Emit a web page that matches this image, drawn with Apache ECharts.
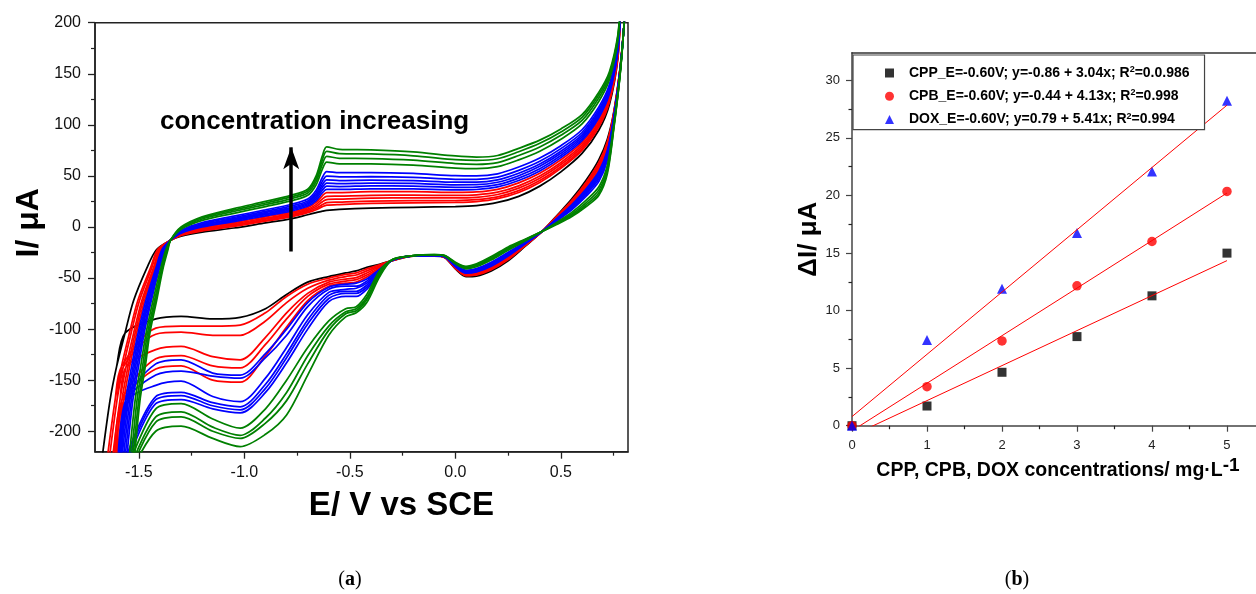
<!DOCTYPE html>
<html><head><meta charset="utf-8">
<script src="https://cdn.jsdelivr.net/npm/echarts@6/dist/echarts.min.js"></script>
<style>html,body{margin:0;padding:0;background:#fff}#c{width:1256px;height:594px}</style>
</head><body><div id="c"></div>
<script>
// ================= panel (a): cyclic voltammograms =================
// left steep part of the forward (anodic) sweep: current levels, and the potential of each curve at them
const fwdSteepI = [-235, -170, -137, -104, -72, -40, -22];
const steepE_black = [[-1.68, -1.637, -1.606, -1.566, -1.525, -1.462, -1.416]];
const steepE_red = [
  [-1.655, -1.613, -1.583, -1.545, -1.505, -1.445, -1.411],
  [-1.645, -1.604, -1.574, -1.537, -1.497, -1.439, -1.408],
  [-1.63, -1.59, -1.561, -1.525, -1.486, -1.431, -1.403],
  [-1.62, -1.581, -1.552, -1.518, -1.48, -1.427, -1.399],
  [-1.61, -1.572, -1.544, -1.511, -1.473, -1.423, -1.394]];
const steepE_blue = [
  [-1.6, -1.563, -1.535, -1.504, -1.467, -1.419, -1.39],
  [-1.592, -1.556, -1.528, -1.498, -1.461, -1.415, -1.387],
  [-1.585, -1.55, -1.522, -1.492, -1.457, -1.412, -1.385],
  [-1.578, -1.543, -1.516, -1.487, -1.452, -1.409, -1.382],
  [-1.57, -1.536, -1.509, -1.481, -1.446, -1.405, -1.379],
  [-1.562, -1.529, -1.502, -1.475, -1.441, -1.402, -1.376]];
const steepE_green = [
  [-1.55, -1.518, -1.492, -1.466, -1.433, -1.396, -1.372],
  [-1.54, -1.509, -1.483, -1.459, -1.426, -1.391, -1.368],
  [-1.532, -1.501, -1.476, -1.453, -1.421, -1.388, -1.365],
  [-1.525, -1.495, -1.47, -1.448, -1.416, -1.385, -1.362]];

// forward sweep (upper branch)
const fwdE = [-1.35, -1.30, -1.20, -1.05, -0.90, -0.78, -0.70, -0.66, -0.63, -0.61, -0.55, -0.40, -0.20, 0.00, 0.10, 0.20, 0.30, 0.40, 0.50, 0.60, 0.68, 0.73, 0.77];
const fwdI_black = [[-13, -9, -5, -1, 4, 8, 12, 14, 15.5, 16.3, 17.3, 18.5, 19.3, 20, 21, 24, 30, 40, 54, 72, 95, 120, 165]];
const fwdI_red = [
  [-13, -8.3, -3.8, 0.5, 5.7, 9.8, 14, 16.9, 19.9, 21.3, 22, 23, 23.6, 24, 24.8, 27.7, 33.8, 43.6, 57.4, 75, 98, 122.6, 166.8],
  [-13, -7.9, -3.2, 1.3, 6.5, 10.8, 15, 18.3, 22, 23.8, 24.3, 25.3, 25.8, 25.9, 26.7, 29.5, 35.6, 45.4, 59, 76.6, 99.4, 123.8, 167.8],
  [-13, -7.5, -2.5, 2.2, 7.6, 11.9, 16.3, 20.1, 24.8, 26.9, 27.3, 28.2, 28.5, 28.4, 29.1, 31.8, 38, 47.7, 61.1, 78.5, 101.3, 125.4, 168.9],
  [-13, -7, -1.7, 3.2, 8.6, 13.1, 17.5, 21.9, 27.5, 30, 30.2, 31, 31.2, 30.9, 31.5, 34.1, 40.3, 49.9, 63.2, 80.4, 103.1, 127, 170],
  [-13, -6.5, -0.8, 4.3, 9.9, 14.4, 19, 24.1, 30.8, 33.7, 33.7, 34.5, 34.5, 33.9, 34.3, 36.9, 43.2, 52.6, 65.8, 82.6, 105.4, 129, 171.4]];
const fwdI_blue = [
  [-13, -6, 0, 5.3, 10.9, 15.6, 20.3, 25.9, 33.5, 36.8, 36.7, 37.3, 37.2, 36.3, 36.7, 39.2, 45.5, 54.9, 67.9, 84.5, 107.2, 130.6, 172.6],
  [-13, -5.6, 0.7, 6.2, 12, 16.7, 21.5, 27.7, 36.2, 39.9, 39.6, 40.2, 39.9, 38.8, 39.1, 41.5, 47.9, 57.1, 70, 86.4, 109.1, 132.2, 173.7],
  [-13, -5.1, 1.5, 7.2, 13, 17.9, 22.8, 29.5, 38.9, 43, 42.5, 43, 42.6, 41.3, 41.4, 43.8, 50.2, 59.4, 72.1, 88.3, 110.9, 133.8, 174.9],
  [-13, -4.7, 2.2, 8.1, 14.1, 19, 24, 31.3, 41.7, 46.2, 45.5, 45.9, 45.3, 43.8, 43.8, 46.1, 52.6, 61.6, 74.2, 90.2, 112.8, 135.4, 176],
  [-13, -4.1, 3.1, 9.3, 15.3, 20.4, 25.5, 33.4, 44.9, 49.9, 49, 49.3, 48.6, 46.7, 46.7, 48.8, 55.4, 64.3, 76.7, 92.5, 115, 137.3, 177.4],
  [-13, -3.5, 4.2, 10.6, 16.8, 22, 27.3, 36, 48.7, 54.2, 53.1, 53.3, 52.4, 50.2, 50, 52.1, 58.7, 67.5, 79.6, 95.2, 117.6, 139.5, 179]];
const fwdI_green = [
  [-13, -2.2, 6.4, 13.4, 20, 25.5, 31, 41.4, 56.9, 63.6, 61.9, 61.8, 60.5, 57.6, 57.1, 59, 65.7, 74.2, 85.9, 100.9, 123.1, 144.3, 182.5],
  [-13, -1.4, 7.8, 15.2, 21.9, 27.6, 33.3, 44.6, 61.8, 69.2, 67.2, 67, 65.4, 62.1, 61.4, 63.1, 70, 78.3, 89.7, 104.3, 126.5, 147.2, 184.6],
  [-13, -0.6, 9, 16.7, 23.5, 29.4, 35.3, 47.5, 66.2, 74.1, 71.9, 71.5, 69.7, 66, 65.2, 66.8, 73.7, 81.9, 93, 107.3, 129.4, 149.8, 186.4],
  [-13, 0, 10, 18, 25, 31, 37, 50, 70, 78.5, 76, 75.5, 73.5, 69.5, 68.5, 70, 77, 85, 96, 110, 132, 152, 188]];

// switching region above the top of the axis
const turnE = [0.795, 0.81];
const turnI = [240, 240];

// reverse sweep (lower branch)
const revE = [0.80, 0.78, 0.75, 0.72, 0.68, 0.62, 0.55, 0.48, 0.41, 0.33, 0.25, 0.17, 0.10, 0.05, 0.00, -0.05, -0.10, -0.20, -0.30, -0.36, -0.42, -0.47, -0.52, -0.60, -0.70, -0.80, -0.90, -1.02, -1.15, -1.30, -1.42];
const revI_black = [[200, 155, 112, 86, 66, 46, 27, 11, -4.5, -19, -33, -43, -48, -48.5, -41, -30, -28.5, -28.5, -33, -36.5, -39.5, -43, -45, -48.5, -54, -66, -80, -88.5, -90, -87.5, -90]];
const revI_red = [
  [200, 154.4, 110.6, 83.3, 63.2, 43.9, 25.6, 10.3, -4.5, -18.4, -31.9, -41.9, -47, -47.7, -40.5, -29.8, -28.4, -28.5, -33, -37, -41, -45, -46.5, -50, -56, -68, -84, -96, -97, -97, -99],
  [200, 154.2, 110, 81.9, 61.8, 42.9, 25, 10, -4.5, -18.2, -31.4, -41.3, -46.6, -47.3, -40.2, -29.8, -28.3, -28.4, -32.9, -38, -43, -47, -48.5, -52, -60, -74, -92, -106, -106, -103, -105],
  [200, 153.8, 109.1, 80.2, 60, 41.6, 24.1, 9.6, -4.5, -17.8, -30.7, -40.6, -46, -46.8, -39.9, -29.7, -28.2, -28.4, -32.8, -39, -45, -49.5, -51, -54, -65, -84, -108, -130, -127, -117, -120],
  [200, 153.5, 108.3, 78.5, 58.3, 40.3, 23.3, 9.1, -4.5, -17.5, -30, -39.9, -45.4, -46.3, -39.6, -29.6, -28.2, -28.4, -32.8, -40, -47, -51.5, -53, -56, -68, -90, -115, -138, -136, -126, -129],
  [200, 153, 107.2, 76.5, 56.2, 38.7, 22.2, 8.6, -4.5, -17, -29.2, -39.1, -44.6, -45.7, -39.2, -29.4, -28.1, -28.4, -32.7, -41, -49, -54, -55, -58, -72, -98, -126, -152, -150, -136, -139]];
const revI_blue = [
  [200, 152.7, 106.4, 74.8, 54.5, 37.4, 21.4, 8.2, -4.5, -16.7, -28.5, -38.4, -44, -45.2, -38.9, -29.3, -28, -28.3, -32.7, -41.5, -51, -55, -56, -59, -74, -100, -124, -145, -143, -130, -134],
  [200, 152.3, 105.5, 73.1, 52.7, 36.1, 20.5, 7.8, -4.5, -16.3, -27.9, -37.7, -43.4, -44.7, -38.5, -29.2, -27.9, -28.3, -32.6, -42, -53, -58, -58, -61, -78, -106, -128, -148, -146, -141, -145],
  [200, 152, 104.7, 71.4, 51, 34.8, 19.7, 7.3, -4.5, -16, -27.2, -37, -42.8, -44.2, -38.2, -29.1, -27.9, -28.3, -32.6, -43, -55, -60, -61, -64, -86, -118, -148, -171, -166, -151, -155],
  [200, 151.6, 103.8, 69.7, 49.2, 33.5, 18.8, 6.9, -4.5, -15.6, -26.5, -36.3, -42.2, -43.7, -37.9, -29, -27.8, -28.3, -32.5, -44, -57, -63, -63, -67, -91, -124, -154, -176, -172, -162, -166],
  [200, 151.2, 102.8, 67.6, 47.1, 32, 17.8, 6.4, -4.5, -15.2, -25.7, -35.4, -41.5, -43.1, -37.5, -28.9, -27.7, -28.2, -32.5, -45, -59, -65, -65, -70, -95, -128, -158, -179, -175, -165, -169],
  [200, 150.7, 101.6, 65.3, 44.7, 30.1, 16.6, 5.8, -4.5, -14.7, -24.8, -34.5, -40.7, -42.4, -37, -28.8, -27.6, -28.2, -32.4, -46, -61, -68, -68, -73, -100, -133, -162, -182, -178, -169, -173]];
const revI_green = [
  [200, 149.7, 99.1, 60.2, 39.4, 26.2, 14.1, 4.5, -4.5, -13.7, -22.7, -32.4, -38.9, -40.9, -36.1, -28.5, -27.4, -28.1, -32.2, -43, -66, -78, -80, -92, -118, -150, -178, -197, -188, -173, -178],
  [200, 149, 97.5, 57.1, 36.3, 23.9, 12.5, 3.8, -4.5, -13, -21.5, -31.1, -37.8, -40, -35.5, -28.3, -27.2, -28.1, -32.1, -45, -69, -80, -83, -97, -126, -162, -187, -204, -196, -181, -186],
  [200, 148.5, 96.2, 54.4, 33.5, 21.8, 11.2, 3.1, -4.5, -12.5, -20.4, -30, -36.8, -39.2, -35, -28.1, -27.1, -28, -32, -47, -71, -82, -85, -101, -134, -170, -192, -207, -200, -186, -191],
  [200, 148, 95, 52, 31, 20, 10, 2.5, -4.5, -12, -19.5, -29, -36, -38.5, -34.5, -28, -27, -28, -32, -49, -74, -84, -88, -106, -145, -184, -203, -215, -207, -195, -200]];

const cvGroups = [
  {color: '#000000', steep: steepE_black, fwd: fwdI_black, rev: revI_black},
  {color: '#ff0000', steep: steepE_red, fwd: fwdI_red, rev: revI_red},
  {color: '#0000ff', steep: steepE_blue, fwd: fwdI_blue, rev: revI_blue},
  {color: '#008000', steep: steepE_green, fwd: fwdI_green, rev: revI_green}];

// axis ticks, panel (a)
const aXTicks = [-1.5, -1.0, -0.5, 0.0, 0.5];
const aXMinor = [-1.25, -0.75, -0.25, 0.25, 0.75];
const aYTicks = [-200, -150, -100, -50, 0, 50, 100, 150, 200];
const aYMinor = [-175, -125, -75, -25, 25, 75, 125, 175];
// arrow annotation (data coordinates)
const arrowE = -0.778;
const arrowI = [-24, 78];

// ================= panel (b): calibration =================
const conc = [0, 1, 2, 3, 4, 5];
const cppI = [0, 1.71, 4.64, 7.74, 11.28, 14.99];
const cpbI = [0, 3.39, 7.36, 12.15, 16.0, 20.35];
const doxI = [0, 7.45, 11.89, 16.73, 22.09, 28.23];
const fitX = [0, 5];
const fitCPP = [-0.86, 14.34];
const fitCPB = [-0.44, 20.21];
const fitDOX = [0.79, 27.84];
const legendParts = {
  CPP: ['CPP_E=-0.60V; y=-0.86 + 3.04x; R', '2', '=0.0.986'],
  CPB: ['CPB_E=-0.60V; y=-0.44 + 4.13x; R', '2', '=0.998'],
  DOX: ['DOX_E=-0.60V; y=0.79 + 5.41x; R', '2', '=0.994']};
const bXTicks = [0, 1, 2, 3, 4, 5];
const bXMinor = [0.5, 1.5, 2.5, 3.5, 4.5];
const bYTicks = [0, 5, 10, 15, 20, 25, 30];
const bYMinor = [2.5, 7.5, 12.5, 17.5, 22.5, 27.5];

// ================= build =================
const FONT = 'Liberation Sans, Arial, Helvetica, sans-serif';
const SERIF = 'Liberation Serif, Times New Roman, serif';

function buildCurve(steep, fwd, rev) {
  const pts = [];
  steep.forEach((e, i) => pts.push([e, fwdSteepI[i]]));
  fwdE.forEach((e, i) => pts.push([e, fwd[i]]));
  turnE.forEach((e, i) => pts.push([e, turnI[i]]));
  revE.forEach((e, i) => pts.push([e, rev[i]]));
  const last = rev[rev.length - 1];
  for (let i = steep.length - 1; i >= 0; i--) {
    if (fwdSteepI[i] < last - 8) pts.push([steep[i], fwdSteepI[i]]);
  }
  return pts;
}

const series = [];
cvGroups.forEach(g => {
  g.fwd.forEach((row, j) => {
    series.push({
      type: 'line', xAxisIndex: 0, yAxisIndex: 0,
      data: buildCurve(g.steep[j], row, g.rev[j]),
      showSymbol: false, symbol: 'none', smooth: 0.3,
      lineStyle: {color: g.color, width: 1.75}, itemStyle: {color: g.color},
      silent: true, animation: false
    });
  });
});
series[0].markLine = {
  silent: true, animation: false,
  symbol: ['none', 'arrow'], symbolSize: [12, 22],
  label: {show: false},
  lineStyle: {color: '#000', width: 3.5, type: 'solid'},
  data: [[{coord: [arrowE, arrowI[0]]}, {coord: [arrowE, arrowI[1]]}]]
};

function fitData(ys) { return fitX.map((x, i) => [x, ys[i]]); }
[fitCPP, fitCPB, fitDOX].forEach(f => series.push({
  type: 'line', name: 'fit', xAxisIndex: 2, yAxisIndex: 2, data: fitData(f),
  showSymbol: false, symbol: 'none', lineStyle: {color: '#ff0000', width: 1}, silent: true, animation: false
}));
function pts(ys) { return conc.map((x, i) => [x, ys[i]]); }
series.push({type: 'scatter', name: 'CPP', xAxisIndex: 2, yAxisIndex: 2, data: pts(cppI), symbol: 'rect', symbolSize: 9, itemStyle: {color: '#000'}, clip: false, animation: false});
series.push({type: 'scatter', name: 'CPB', xAxisIndex: 2, yAxisIndex: 2, data: pts(cpbI), symbol: 'circle', symbolSize: 9.5, itemStyle: {color: '#ff0000'}, clip: false, animation: false});
series.push({type: 'scatter', name: 'DOX', xAxisIndex: 2, yAxisIndex: 2, data: pts(doxI), symbol: 'triangle', symbolSize: 10, itemStyle: {color: '#0000ff'}, clip: false, animation: false});

const axisCol = '#222';
function mainAxis(opt) {
  return Object.assign({
    type: 'value', splitLine: {show: false},
    axisLine: {show: true, onZero: false, lineStyle: {color: axisCol, width: 1.5}},
    axisTick: {show: true, inside: false, length: 7, lineStyle: {color: axisCol, width: 1.3}},
  }, opt);
}
function minorAxis(opt, vals, len) {
  return Object.assign({
    type: 'value', splitLine: {show: false},
    axisLine: {show: false, onZero: false},
    axisTick: {show: true, inside: false, length: len, customValues: vals, lineStyle: {color: axisCol, width: 1.2}},
    axisLabel: {show: false}
  }, opt);
}

const aX = {min: -1.708, max: 0.818};
const aY = {min: -220, max: 200};
const bX = {min: 0, max: 5.387};
const bY = {min: 0, max: 32.4};

const option = {
  animation: false,
  backgroundColor: '#fff',
  grid: [
    {left: 95, top: 22.7, width: 533, height: 429, show: true, borderColor: '#222', borderWidth: 1.5},
    {left: 852, top: 52.7, width: 404, height: 373, show: false}
  ],
  xAxis: [
    mainAxis(Object.assign({gridIndex: 0, position: 'bottom',
      axisTick: {show: true, length: 7, customValues: aXTicks, lineStyle: {color: axisCol, width: 1.3}},
      axisLabel: {customValues: aXTicks, formatter: v => Number(v).toFixed(1), fontSize: 16, color: '#111', margin: 13, fontFamily: FONT},
      name: 'E/ V vs SCE', nameLocation: 'middle', nameGap: 38,
      nameTextStyle: {fontSize: 33, fontWeight: 'bold', color: '#000', fontFamily: FONT, padding: [0, 0, 0, 80]}
    }, aX)),
    minorAxis(Object.assign({gridIndex: 0, position: 'bottom'}, aX), aXMinor, 4),
    mainAxis(Object.assign({gridIndex: 1, position: 'bottom',
      axisLine: {show: true, onZero: false, lineStyle: {color: '#444', width: 1.5}},
      axisTick: {show: true, length: 6, customValues: bXTicks, lineStyle: {color: '#444', width: 1.2}},
      axisLabel: {customValues: bXTicks, fontSize: 13, color: '#222', margin: 13, fontFamily: FONT},
      name: '{t|CPP, CPB, DOX concentrations/ mg·L}{s|-1}', nameLocation: 'middle', nameGap: 31,
      nameTextStyle: {padding: [0, 0, 0, 8], rich: {
        t: {fontSize: 19.5, fontWeight: 'bold', color: '#000', fontFamily: FONT, lineHeight: 24, verticalAlign: 'bottom'},
        s: {fontSize: 19, fontWeight: 'bold', color: '#000', fontFamily: FONT, lineHeight: 24, verticalAlign: 'top', padding: [0, 0, 10, 0]}}}
    }, bX)),
    minorAxis(Object.assign({gridIndex: 1, position: 'bottom'}, bX), bXMinor, 3.5),
    Object.assign({type: 'value', gridIndex: 1, position: 'top', splitLine: {show: false},
      axisLine: {show: true, onZero: false, lineStyle: {color: '#333', width: 1.5}},
      axisTick: {show: false}, axisLabel: {show: false}}, bX)
  ],
  yAxis: [
    mainAxis(Object.assign({gridIndex: 0, position: 'left',
      axisTick: {show: true, length: 7, customValues: aYTicks, lineStyle: {color: axisCol, width: 1.3}},
      axisLabel: {customValues: aYTicks, fontSize: 16, color: '#111', margin: 14, fontFamily: FONT},
      name: 'I/ μA', nameLocation: 'middle', nameGap: 48,
      nameTextStyle: {fontSize: 32, fontWeight: 'bold', color: '#000', fontFamily: FONT, padding: [0, 0, 0, 29]}
    }, aY)),
    minorAxis(Object.assign({gridIndex: 0, position: 'left'}, aY), aYMinor, 4),
    mainAxis(Object.assign({gridIndex: 1, position: 'left',
      axisLine: {show: true, onZero: false, lineStyle: {color: '#444', width: 1.5}},
      axisTick: {show: true, length: 6, customValues: bYTicks, lineStyle: {color: '#444', width: 1.2}},
      axisLabel: {customValues: bYTicks, fontSize: 13, color: '#222', margin: 12, fontFamily: FONT},
      name: 'ΔI/ μA', nameLocation: 'middle', nameGap: 17,
      nameTextStyle: {fontSize: 26, fontWeight: 'bold', color: '#000', fontFamily: FONT}
    }, bY)),
    minorAxis(Object.assign({gridIndex: 1, position: 'left'}, bY), bYMinor, 3.5)
  ],
  legend: {
    data: ['CPP', 'CPB', 'DOX'], orient: 'vertical', left: 853, top: 55,
    backgroundColor: '#fff', borderColor: '#444', borderWidth: 1.2,
    padding: [10, 15, 3, 32], itemGap: 8.3, itemWidth: 9, itemHeight: 9,
    selectedMode: false,
    formatter: n => `{t|${legendParts[n][0]}}{s|${legendParts[n][1]}}{t|${legendParts[n][2]}}`,
    textStyle: {padding: [0, 0, 0, 10], rich: {
      t: {fontSize: 14, fontWeight: 'bold', color: '#000', fontFamily: FONT, lineHeight: 16},
      s: {fontSize: 9, fontWeight: 'bold', color: '#000', fontFamily: FONT, lineHeight: 9, verticalAlign: 'top'}}}
  },
  graphic: [
    {type: 'text', x: 160, y: 122, silent: true,
      style: {text: 'concentration increasing', fill: '#000', font: 'bold 26px ' + FONT, textAlign: 'left', textVerticalAlign: 'middle'}},
    {type: 'text', x: 350, y: 580, silent: true,
      style: {text: '{p|(}{b|a}{p|)}', textAlign: 'center', textVerticalAlign: 'middle',
        rich: {p: {fontSize: 20, fontFamily: SERIF, fill: '#000', color: '#000'}, b: {fontSize: 20, fontFamily: SERIF, fontWeight: 'bold', fill: '#000', color: '#000'}}}},
    {type: 'text', x: 1017, y: 580, silent: true,
      style: {text: '{p|(}{b|b}{p|)}', textAlign: 'center', textVerticalAlign: 'middle',
        rich: {p: {fontSize: 20, fontFamily: SERIF, fill: '#000', color: '#000'}, b: {fontSize: 20, fontFamily: SERIF, fontWeight: 'bold', fill: '#000', color: '#000'}}}}
  ],
  series: series
};

const chart = echarts.init(document.getElementById('c'), null, {renderer: 'canvas'});
chart.setOption(option);
</script>
</body></html>
